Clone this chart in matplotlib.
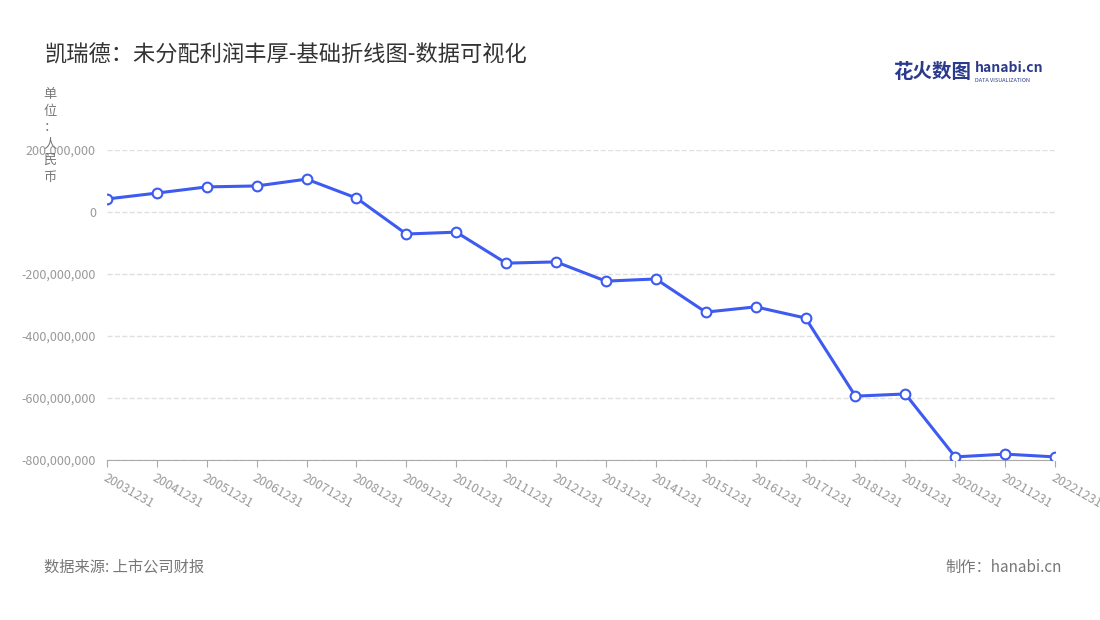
import matplotlib.pyplot as plt
from matplotlib.ticker import FuncFormatter

plt.rcParams['font.family'] = ['Noto Sans CJK SC', 'DejaVu Sans']

dates = ["20031231", "20041231", "20051231", "20061231", "20071231", "20081231",
         "20091231", "20101231", "20111231", "20121231", "20131231", "20141231",
         "20151231", "20161231", "20171231", "20181231", "20191231", "20201231",
         "20211231", "20221231"]
values = [42e6, 61e6, 81e6, 84e6, 106e6, 45e6, -71e6, -65e6, -165e6, -161e6,
          -223e6, -216e6, -323e6, -306e6, -342e6, -594e6, -587e6, -790e6,
          -781e6, -790e6]

fig = plt.figure(figsize=(11, 6.2), dpi=100)
ax = fig.add_axes([107 / 1100, 160 / 620, 948 / 1100, 310 / 620])
x = list(range(len(dates)))
ax.plot(x, values, color='#3d5af1', lw=2.2, marker='o', ms=7,
        markerfacecolor='white', markeredgecolor='#3d5af1', markeredgewidth=1.5, zorder=3)
ax.set_xlim(0, len(dates) - 1)
ax.set_ylim(-800e6, 200e6)
ax.set_yticks([-800e6, -600e6, -400e6, -200e6, 0, 200e6])
ax.yaxis.set_major_formatter(FuncFormatter(lambda v, p: f"{int(v):,}"))
ax.set_xticks(x)
ax.set_xticklabels(dates, rotation=-30, ha='left', rotation_mode='anchor')
ax.tick_params(axis='x', colors='#999999', labelsize=9, length=5, color='#aaaaaa')
ax.tick_params(axis='y', colors='#999999', labelsize=9, length=0, pad=8)
ax.grid(axis='y', color='#e0e0e0', ls='--', lw=1)
for s in ['top', 'right', 'left']:
    ax.spines[s].set_visible(False)
ax.spines['bottom'].set_color('#aaaaaa')
ax.set_axisbelow(True)

fig.text(0.04, 1 - 55 / 620, "凯瑞德：未分配利润丰厚-基础折线图-数据可视化", fontsize=16,
         color='#333333', va='center')
fig.text(50 / 1100, 1 - 88 / 620, "单\n位\n：\n人\n民\n币", fontsize=9.5, color='#777777',
         ha='center', va='top', linespacing=1.35)
fig.text(0.04, 1 - 567 / 620, "数据来源: 上市公司财报", fontsize=11, color='#777777', va='center')
fig.text(0.965, 1 - 567 / 620, "制作：hanabi.cn", fontsize=11, color='#777777', va='center', ha='right')
fig.text(893 / 1100, 1 - 72 / 620, "花火数图", fontsize=14, color='#2b3a8c', va='center', weight='bold')
fig.text(975 / 1100, 1 - 68 / 620, "hanabi.cn", fontsize=10, color='#2b3a8c', va='center', weight='bold')
fig.text(975 / 1100, 1 - 80 / 620, "DATA VISUALIZATION", fontsize=4, color='#2b3a8c', va='center')

fig.savefig("out.png", dpi=100)
